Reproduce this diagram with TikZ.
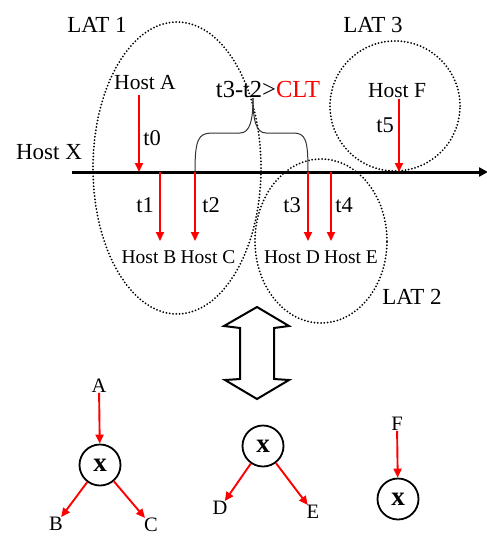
\documentclass[tikz,border=0pt]{standalone}
\usepackage{fontspec}
\setmainfont{Liberation Serif}
\usetikzlibrary{arrows.meta,shapes.geometric}
\begin{document}
\begin{tikzpicture}[x=1pt,y=-1pt,
  big/.style={font=\fontsize{23}{25}\selectfont, inner sep=0pt},
  mid/.style={font=\fontsize{21.5}{23}\selectfont, inner sep=0pt},
  tlab/.style={font=\fontsize{22.5}{24}\selectfont, inner sep=0pt},
  small/.style={font=\fontsize{19.5}{21}\selectfont, inner sep=0pt},
  letter/.style={font=\fontsize{20.5}{22}\selectfont, inner sep=0pt},
  redarr/.style={draw=red, line width=1.9pt, -{Triangle[length=9pt,width=8pt]}},
  zone/.style={draw, line width=2pt, dash pattern=on 0pt off 3.3pt, line cap=round, fill=none},
  xnode/.style={circle, draw, line width=1.8pt, minimum size=41pt, inner sep=0pt, font=\fontsize{27}{29}\selectfont\bfseries},
  brace/.style={draw=black!80, line width=1pt}
]
\useasboundingbox (0,0) rectangle (487,536);

% zones
\node[zone, ellipse, minimum width=168pt, minimum height=292pt] (lat1z) at (177,168) {};
\node[zone, ellipse, minimum width=132pt, minimum height=164pt] (lat2z) at (321,241) {};
\node[zone, circle, minimum size=130pt] (lat3z) at (395,106) {};

\node[big] (lat1) at (97,25) {LAT 1};
\node[big] (lat3) at (373,25) {LAT 3};
\node[big] (lat2) at (412,297) {LAT 2};

% host X line
\node[big, anchor=center] (hostX) at (49,152) {Host X};
\coordinate (xl) at (72,172);
\coordinate (xr) at (488,172);
\draw[line width=3pt, -{Triangle[length=9pt,width=9pt]}] (xl) -- (xr);

% top labels
\node[mid] (hostA) at (145,83) {Host A};
\node[mid] (hostF) at (397,91) {Host F};
\node[tlab] (t0) at (152,138) {t0};
\node[tlab] (t5) at (385,125) {t5};
\node[tlab] (t1) at (145,205) {t1};
\node[tlab] (t2) at (211,205) {t2};
\node[tlab] (t3) at (292,205) {t3};
\node[tlab] (t4) at (344,205) {t4};
\node[small] (hostB) at (149,257) {Host B};
\node[small] (hostC) at (208,257) {Host C};
\node[small] (hostD) at (292,257) {Host D};
\node[small] (hostE) at (351,257) {Host E};
\node[font=\fontsize{24.5}{26}\selectfont, inner sep=0pt] (clt) at (268,90) {t3-t2>\textcolor{red}{CLT}};

% arrow ends
\coordinate (p0) at (139,172);
\coordinate (p1) at (160,172); \coordinate (q1) at (160,241);
\coordinate (p2) at (195,172); \coordinate (q2) at (195,241);
\coordinate (p3) at (308,172); \coordinate (q3) at (308,241);
\coordinate (p4) at (331,172); \coordinate (q4) at (331,241);
\coordinate (p5) at (399,172);

\draw[redarr] (hostA.south -| p0) ++(0,5) -- (p0);
\draw[redarr] (p1) -- (q1);
\draw[redarr] (p2) -- (q2);
\draw[redarr] (p3) -- (q3);
\draw[redarr] (p4) -- (q4);
\draw[redarr] (hostF.south -| p5) ++(0,1) -- (p5);

% brace
\draw[brace] (p2) .. controls (195,140) and (198,133) .. (212,133)
  -- (240,133) .. controls (250,133) and (253,120) .. (253,98);
\draw[brace] (253,98) .. controls (253,120) and (256,133) .. (266,133)
  -- (293,133) .. controls (306,133) and (308,140) .. (p3);

% double hollow arrow
\draw[line width=2pt, line join=miter, fill=white]
  (257,307) -- (289,326) -- (274,328) -- (274,379) -- (289,380) -- (257,399)
  -- (225,380) -- (240,379) -- (240,328) -- (224,326) -- cycle;

% bottom graphs
\node[letter] (A) at (99,386) {A};
\node[xnode] (x1) at (100,465) {x};
\node[letter] (B) at (56,524) {B};
\node[letter] (C) at (151,525) {C};
\draw[redarr] (A) -- (x1);
\draw[redarr] (x1) -- (B);
\draw[redarr] (x1) -- (C);

\node[xnode] (x2) at (263,446) {x};
\node[letter] (D) at (220,508) {D};
\node[letter] (E) at (313,512) {E};
\draw[redarr] (x2) -- (D);
\draw[redarr] (x2) -- (E);

\node[letter] (F) at (397,424) {F};
\node[xnode] (x3) at (398,499) {x};
\draw[redarr] (F) -- (x3);
\end{tikzpicture}
\end{document}
